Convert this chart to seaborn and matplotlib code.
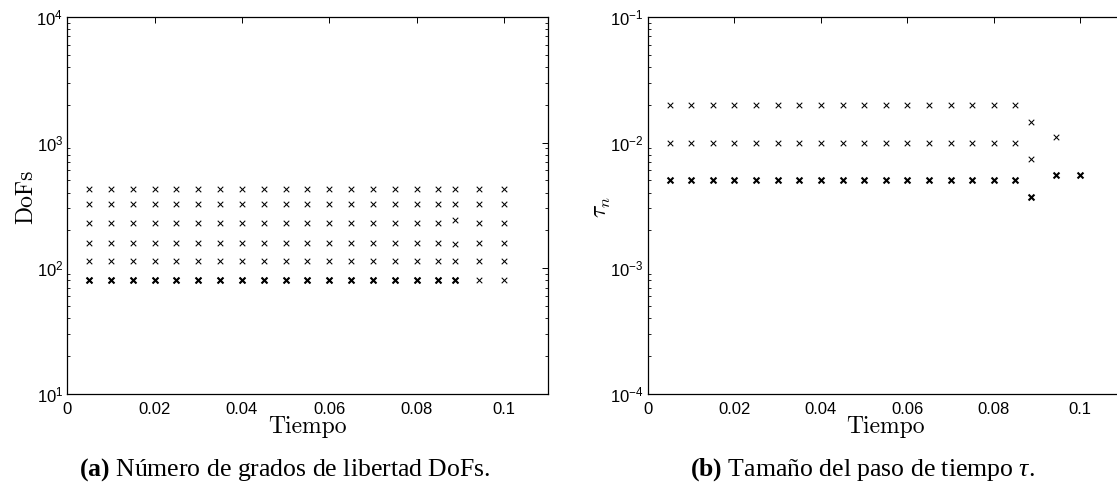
import numpy as np
import pandas as pd
import matplotlib
matplotlib.use("Agg")
import matplotlib.pyplot as plt
import matplotlib.ticker as mticker
import seaborn as sns

# ---------------- data ----------------
tiempo = [0.005, 0.010, 0.015, 0.020, 0.025, 0.030, 0.035, 0.040, 0.045, 0.050,
          0.055, 0.060, 0.065, 0.070, 0.075, 0.080, 0.085, 0.0887, 0.0943, 0.100]

dofs_1 = [81, 81, 81, 81, 81, 81, 81, 81, 81, 81, 81, 81, 81, 81, 81, 81, 81, 81, 81, 81]
dofs_2 = [115, 115, 115, 115, 115, 115, 115, 115, 115, 115, 115, 115, 115, 115, 115, 115, 115, 115, 115, 115]
dofs_3 = [159, 159, 159, 159, 159, 159, 159, 159, 159, 159, 159, 159, 159, 159, 159, 159, 159, 156, 159, 159]
dofs_4 = [228, 228, 228, 228, 228, 228, 228, 228, 228, 228, 228, 228, 228, 228, 228, 228, 228, 240, 228, 228]
dofs_5 = [326, 326, 326, 326, 326, 326, 326, 326, 326, 326, 326, 326, 326, 326, 326, 326, 326, 326, 326, 326]
dofs_6 = [430, 430, 430, 430, 430, 430, 430, 430, 430, 430, 430, 430, 430, 430, 430, 430, 430, 425, 425, 425]
# the lowest DoF level is repeated (overplotted) for these time steps
dofs_repetido = [81, 81, 81, 81, 81, 81, 81, 81, 81, 81, 81, 81, 81, 81, 81, 81, 81, 81]

tiempo_tau_a = [0.005, 0.010, 0.015, 0.020, 0.025, 0.030, 0.035, 0.040, 0.045, 0.050,
                0.055, 0.060, 0.065, 0.070, 0.075, 0.080, 0.085, 0.0887, 0.0943]
tau_a = [0.02, 0.02, 0.02, 0.02, 0.02, 0.02, 0.02, 0.02, 0.02, 0.02,
         0.02, 0.02, 0.02, 0.02, 0.02, 0.02, 0.02, 0.0147, 0.0111]
tiempo_tau_b = [0.005, 0.010, 0.015, 0.020, 0.025, 0.030, 0.035, 0.040, 0.045, 0.050,
                0.055, 0.060, 0.065, 0.070, 0.075, 0.080, 0.085, 0.0887]
tau_b = [0.01, 0.01, 0.01, 0.01, 0.01, 0.01, 0.01, 0.01, 0.01, 0.01,
         0.01, 0.01, 0.01, 0.01, 0.01, 0.01, 0.01, 0.00736]
tiempo_tau_c = tiempo
tau_c = [0.005, 0.005, 0.005, 0.005, 0.005, 0.005, 0.005, 0.005, 0.005, 0.005,
         0.005, 0.005, 0.005, 0.005, 0.005, 0.005, 0.005, 0.00368, 0.00556, 0.00556]

xticks = [0, 0.02, 0.04, 0.06, 0.08, 0.1]
xtick_labels = ["0", "0.02", "0.04", "0.06", "0.08", "0.1"]

# ---------------- style ----------------
sns.set_theme(style="white")
plt.rcParams["font.family"] = ["Liberation Sans", "DejaVu Sans"]
plt.rcParams["mathtext.fontset"] = "cm"
plt.rcParams["mathtext.rm"] = "Liberation Serif"
plt.rcParams["mathtext.it"] = "Liberation Serif:italic"
plt.rcParams["mathtext.bf"] = "Liberation Serif:bold"
plt.rcParams["axes.edgecolor"] = "black"
plt.rcParams["axes.linewidth"] = 0.9
serif = ["cmr10", "DejaVu Serif"]
caption_font = ["Liberation Serif", "DejaVu Serif"]

fig = plt.figure(figsize=(11.17, 4.88), dpi=100)
ax1 = fig.add_axes([0.0603, 0.1932, 0.4299, 0.7719])
ax2 = fig.add_axes([0.5801, 0.1932, 0.4258, 0.7719])

thin = dict(marker="x", s=16, color="black", linewidth=0.75)
bold = dict(marker="x", s=18, color="black", linewidth=1.5)

df_dofs = pd.DataFrame({
    "Tiempo": tiempo * 6,
    "DoFs": dofs_1 + dofs_2 + dofs_3 + dofs_4 + dofs_5 + dofs_6,
})
df_rep = pd.DataFrame({"Tiempo": tiempo[:len(dofs_repetido)], "DoFs": dofs_repetido})
sns.scatterplot(data=df_dofs, x="Tiempo", y="DoFs", ax=ax1, **thin)
sns.scatterplot(data=df_rep, x="Tiempo", y="DoFs", ax=ax1, **bold)

df_tau = pd.DataFrame({
    "Tiempo": tiempo_tau_a + tiempo_tau_b,
    "tau": tau_a + tau_b,
})
df_tau_c = pd.DataFrame({"Tiempo": tiempo_tau_c, "tau": tau_c})
sns.scatterplot(data=df_tau, x="Tiempo", y="tau", ax=ax2, **thin)
sns.scatterplot(data=df_tau_c, x="Tiempo", y="tau", ax=ax2, **bold)

for ax, ylim in ((ax1, (1e1, 1e4)), (ax2, (1e-4, 1e-1))):
    ax.set_yscale("log")
    ax.set_xlim(0, 0.11)
    ax.set_ylim(*ylim)
    ax.set_xticks(xticks)
    ax.set_xticklabels(xtick_labels)
    ax.yaxis.set_major_locator(mticker.LogLocator(base=10, numticks=10))
    ax.yaxis.set_minor_locator(mticker.LogLocator(base=10, subs=np.arange(2, 10), numticks=20))
    ax.yaxis.set_minor_formatter(mticker.NullFormatter())
    ax.tick_params(axis="both", which="major", direction="in", top=True, right=True,
                   length=4, width=0.7, color="black", labelsize=12, labelcolor="black")
    ax.tick_params(axis="x", which="major", pad=6)
    ax.tick_params(axis="y", which="major", pad=3)
    ax.tick_params(axis="y", which="minor", direction="in", left=True, right=True,
                   length=2, width=0.6, color="black")
    ax.tick_params(axis="x", which="minor", bottom=False, top=False)
    for sp in ax.spines.values():
        sp.set_visible(True)
        sp.set_color("black")
    ax.grid(False)
    ax.set_xlabel("Tiempo", family=serif, fontsize=17, color="black")
    ax.xaxis.set_label_coords(0.5, -0.06)

ax1.set_ylabel("DoFs", family=serif, fontsize=17, color="black")
ax1.yaxis.set_label_coords(-0.063, 0.523)
ax2.set_ylabel(r"$\tau_n$", fontsize=17, color="black", math_fontfamily="cm")
ax2.yaxis.set_label_coords(-0.074, 0.495)

fig.text(285 / 1117, 1 - 470 / 488, r"$\mathbf{(a)}$ Número de grados de libertad DoFs.",
         family=caption_font, math_fontfamily="custom", fontsize=18.5,
         ha="center", va="center", color="black")
fig.text(862 / 1117, 1 - 470 / 488, r"$\mathbf{(b)}$ Tamaño del paso de tiempo $\tau$.",
         family=caption_font, math_fontfamily="custom", fontsize=18.5,
         ha="center", va="center", color="black")

fig.savefig("out.png", dpi=100)
